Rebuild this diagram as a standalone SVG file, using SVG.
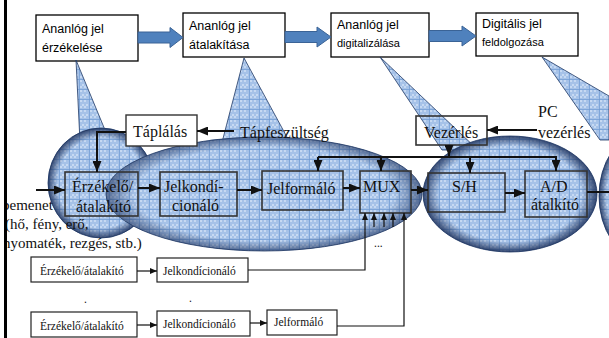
<svg xmlns="http://www.w3.org/2000/svg" width="609" height="338" viewBox="0 0 609 338">
<style>
.tb{fill:#fff;stroke:#000;stroke-width:1.3}
.bl{fill:#4f81bd;stroke:#3a6396;stroke-width:1}
.ts{font-family:"Liberation Sans",Arial,sans-serif;font-size:12.5px;fill:#000}
.tss{font-family:"Liberation Sans",Arial,sans-serif;font-size:11px;fill:#000}
.sh{fill:url(#pat);stroke:#1f3864;stroke-width:0.8}
.rim{stroke:none}
.ib{fill:none;stroke:#333;stroke-width:1.6}
.wb{fill:#fff;stroke:#333;stroke-width:1.4}
.t{font-family:"Liberation Serif","Times New Roman",serif;font-size:16px;fill:#111}
.tl{font-family:"Liberation Serif","Times New Roman",serif;font-size:15px;fill:#111}
.sb{fill:#fff;stroke:#222;stroke-width:1.2}
.st{font-family:"Liberation Serif","Times New Roman",serif;font-size:11.5px;fill:#111}
.c{fill:none;stroke:#111;stroke-width:2}
.cs{fill:none;stroke:#111;stroke-width:1.2}
</style>
<defs>
<pattern id="pat" width="10" height="10" patternUnits="userSpaceOnUse">
<rect width="10" height="10" fill="#a6c2e8"/>
<rect x="0" y="0" width="2" height="2" fill="#c6d9f2"/>
<rect x="4" y="0" width="2" height="2" fill="#c6d9f2"/>
<rect x="2" y="4" width="2" height="2" fill="#c6d9f2"/>
<rect x="6" y="4" width="2" height="2" fill="#c6d9f2"/>
<rect x="0" y="6" width="2" height="2" fill="#c6d9f2"/>
<rect x="4" y="6" width="2" height="2" fill="#c6d9f2"/>
<path d="M9.5,0V10M0,9.5H10" stroke="#6f9ad2" stroke-width="0.7"/>
</pattern>
<radialGradient id="rg" cx="0.5" cy="0.5" r="0.5">
<stop offset="0" stop-color="#1b2f5a" stop-opacity="0"/>
<stop offset="0.82" stop-color="#1b2f5a" stop-opacity="0"/>
<stop offset="1" stop-color="#1b2f5a" stop-opacity="0.85"/>
</radialGradient>
<marker id="ah" markerUnits="userSpaceOnUse" markerWidth="11" markerHeight="9" refX="11" refY="4.5" orient="auto">
<path d="M0,0L11,4.5L0,9z" fill="#111"/>
</marker>
<marker id="as" markerUnits="userSpaceOnUse" markerWidth="7" markerHeight="6" refX="7" refY="3" orient="auto">
<path d="M0,0L7,3L0,6z" fill="#111"/>
</marker>
</defs>
<rect width="609" height="338" fill="#fff"/>

<!-- top stage boxes -->
<g id="stage1"><rect class="tb" x="36" y="15" width="102" height="46"/><text class="ts" x="42" y="33">Ananlóg jel</text><text class="ts" x="42" y="52">érzékelése</text></g>
<g id="stage2"><rect class="tb" x="183" y="13" width="102" height="44"/><text class="ts" x="189" y="30">Ananlóg jel</text><text class="ts" x="189" y="49">átalakítása</text></g>
<g id="stage3"><rect class="tb" x="331" y="13" width="98" height="44"/><text class="ts" x="337" y="29">Ananlóg jel</text><text class="tss" x="337" y="47">digitalizálása</text></g>
<g id="stage4"><rect class="tb" x="476" y="13" width="102" height="43"/><text class="ts" x="482" y="28">Digitális jel</text><text class="tss" x="482" y="46">feldolgozása</text></g>
<g id="stage-arrows">
<path class="bl" d="M138,32H170V27.5L183,37.5L170,47.5V43H138Z"/>
<path class="bl" d="M285,31.5H317V27L331,37L317,47V42.5H285Z"/>
<path class="bl" d="M429,30.5H462V26L476,36L462,46V41.5H429Z"/>
</g>

<!-- Vezérlés box background -->
<rect x="416" y="116" width="71" height="29" fill="#fff"/>

<!-- callout shapes -->
<g id="callouts">
<polygon class="sh" points="76,60 110,142 80,142"/>
<polygon class="sh" points="244,58 294,150 220,150"/>
<polygon class="sh" points="380,57 478,150 442,150"/>
<polygon class="sh" points="542,57 609,96 609,140 600,140"/>
<ellipse class="sh" cx="101" cy="183" rx="53" ry="55"/>
<ellipse class="rim" cx="101" cy="183" rx="53" ry="55" fill="url(#rg)"/>
<ellipse class="sh" cx="264" cy="194" rx="158" ry="57"/>
<ellipse class="rim" cx="264" cy="194" rx="158" ry="57" fill="url(#rg)" opacity="0.7"/>
<ellipse class="sh" cx="510" cy="194" rx="87" ry="58"/>
<ellipse class="rim" cx="510" cy="194" rx="87" ry="58" fill="url(#rg)"/>
<ellipse class="sh" cx="642" cy="196" rx="43" ry="62"/>
<ellipse class="rim" cx="642" cy="196" rx="43" ry="62" fill="url(#rg)"/>
</g>

<!-- inner blocks -->
<g id="taplalas"><rect class="wb" x="126" y="115" width="71" height="31"/><text class="t" x="133" y="137">Táplálás</text></g>
<g id="vezerles"><rect class="ib" x="416" y="116" width="71" height="29"/><text class="t" x="424" y="138">Vezérlés</text></g>
<g id="erzekelo"><rect class="ib" x="65" y="172" width="73" height="44"/><text class="t" x="72" y="192">Érzékelő/</text><text class="t" x="76" y="212">átalakító</text></g>
<g id="jelkond"><rect class="ib" x="160" y="172" width="77" height="44"/><text class="t" x="164" y="192">Jelkondí-</text><text class="t" x="172" y="211">cionáló</text></g>
<g id="jelform"><rect class="ib" x="262" y="171" width="81" height="39"/><text class="t" x="267" y="194">Jelformáló</text></g>
<g id="mux"><rect class="ib" x="360" y="171" width="51" height="42"/><text class="t" x="363" y="192">MUX</text></g>
<g id="sh"><rect class="ib" x="428" y="173" width="77" height="39"/><text class="t" x="452" y="192">S/H</text></g>
<g id="ad"><rect class="ib" x="525" y="171" width="62" height="46"/><text class="t" x="540" y="192">A/D</text><text class="t" x="531" y="210">átalkító</text></g>

<!-- free labels -->
<g id="labels">
<text class="t" x="240" y="138">Tápfeszültség</text>
<text class="t" x="538" y="117">PC</text>
<text class="t" x="538" y="138">vezérlés</text>
<text class="tl" x="2" y="210">bemenet</text>
<text class="tl" x="5" y="229">(hő, fény, erő,</text>
<text class="tl" x="3" y="248">nyomaték, rezgés, stb.)</text>
<text class="st" x="374" y="247">...</text>
<text class="st" x="84" y="303">.</text>
<text class="st" x="189" y="302">.</text>
</g>

<!-- bottom chains -->
<g id="row1-erz"><rect class="sb" x="31" y="257" width="106" height="25"/><text class="st" x="40" y="275">Érzékelő/átalakító</text></g>
<g id="row1-jelk"><rect class="sb" x="157" y="258" width="91" height="24"/><text class="st" x="163" y="275">Jelkondícionáló</text></g>
<g id="row2-erz"><rect class="sb" x="31" y="312" width="106" height="25"/><text class="st" x="40" y="330">Érzékelő/átalakító</text></g>
<g id="row2-jelk"><rect class="sb" x="157" y="311" width="93" height="25"/><text class="st" x="163" y="328">Jelkondícionáló</text></g>
<g id="row2-jelf"><rect class="sb" x="267" y="310" width="70" height="25"/><text class="st" x="274" y="326">Jelformáló</text></g>

<!-- connectors -->
<g id="connectors">
<path class="c" d="M36,190H65" marker-end="url(#ah)"/>
<path class="c" d="M138,188H160" marker-end="url(#ah)"/>
<path class="c" d="M237,190H262" marker-end="url(#ah)"/>
<path class="c" d="M343,188H360" marker-end="url(#ah)"/>
<path class="c" d="M411,190H428" marker-end="url(#ah)"/>
<path class="c" d="M505,193H525" marker-end="url(#ah)"/>
<path class="c" d="M587,192H609"/>
<path class="c" d="M126,132H97V172" marker-end="url(#ah)"/>
<path class="c" d="M234,131H197" marker-end="url(#ah)"/>
<path class="c" d="M537,130H487" marker-end="url(#ah)"/>
<path class="c" d="M449,145V156" marker-end="url(#ah)"/>
<path class="c" d="M318,157H556"/>
<path class="c" d="M318,157V171" marker-end="url(#ah)"/>
<path class="c" d="M381,157V171" marker-end="url(#ah)"/>
<path class="c" d="M470,157V173" marker-end="url(#ah)"/>
<path class="c" d="M556,156V171" marker-end="url(#ah)"/>
<path class="cs" d="M374,227V213" marker-end="url(#as)"/>
<path class="cs" d="M384,227V213" marker-end="url(#as)"/>
<path class="cs" d="M393,227V213" marker-end="url(#as)"/>
<path class="cs" d="M248,270H365V213" marker-end="url(#as)"/>
<path class="cs" d="M337,326H404V213" marker-end="url(#as)"/>
<path class="cs" d="M137,271H157" marker-end="url(#as)"/>
<path class="cs" d="M137,325H157" marker-end="url(#as)"/>
<path class="cs" d="M250,323H267" marker-end="url(#as)"/>
</g>

<rect x="0" y="0" width="4" height="338" fill="#fff"/>
<rect x="4" y="0" width="3" height="338" fill="#000"/>
</svg>
